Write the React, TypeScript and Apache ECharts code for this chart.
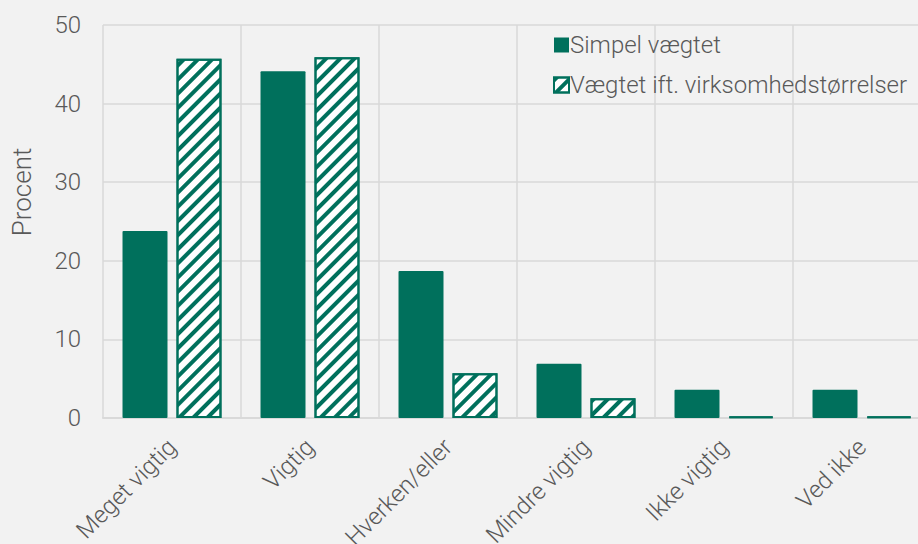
import React, { useEffect, useRef } from "react";
import * as echarts from "echarts";

const categories = ["Meget vigtig", "Vigtig", "Hverken/eller", "Mindre vigtig", "Ikke vigtig", "Ved ikke"];
const simpleValues = [23.8, 44.1, 18.7, 6.9, 3.6, 3.6];
const weightedValues = [45.7, 45.9, 5.7, 2.5, 0.2, 0.2];
const seriesNames = ["Simpel vægtet", "Vægtet ift. virksomhedstørrelser"];
const yTicks = { min: 0, max: 50, interval: 10 };

const GREEN = "#00705c";
const TEXT = "#595959";
const GRID = "#d9d9d9";
const FONT = "Roboto";

export default function App() {
  const ref = useRef<HTMLDivElement>(null);
  useEffect(() => {
    if (!ref.current) return;
    const chart = echarts.init(ref.current, undefined, { renderer: "svg" });
    chart.setOption({
      animation: false,
      backgroundColor: "#f2f2f2",
      textStyle: { fontFamily: FONT, fontWeight: 300 },
      grid: { left: 103, right: -13, top: 25, bottom: 126, containLabel: false, outerBoundsMode: "none" },
      legend: {
        orient: "vertical",
        left: 548,
        top: 28,
        itemWidth: 15,
        itemHeight: 15,
        itemGap: 16,
        icon: "rect",
        textStyle: { fontSize: 24, color: TEXT, fontFamily: FONT, fontWeight: 300, padding: [0, 0, 0, -4] },
        data: seriesNames,
      },
      graphic: [
        {
          type: "text",
          x: 9,
          y: 192,
          rotation: Math.PI / 2,
          style: {
            text: "Procent",
            fontSize: 26,
            fontFamily: FONT,
            fontWeight: 300,
            fill: TEXT,
            align: "center",
            verticalAlign: "top",
          },
        },
      ],
      xAxis: {
        type: "category",
        data: categories,
        axisLine: { show: true, lineStyle: { color: GRID, width: 2 } },
        axisTick: { show: false },
        splitLine: { show: true, lineStyle: { color: GRID, width: 1.5 } },
        axisLabel: {
          rotate: 45,
          fontSize: 24,
          color: TEXT,
          fontFamily: FONT,
          fontWeight: 300,
          margin: 25,
          interval: 0,
          hideOverlap: false,
        },
      },
      yAxis: {
        type: "value",
        min: yTicks.min,
        max: yTicks.max,
        interval: yTicks.interval,
        axisLine: { show: false },
        axisTick: { show: false },
        splitLine: { show: true, lineStyle: { color: GRID, width: 1.5 } },
        axisLabel: { fontSize: 24, color: TEXT, fontFamily: FONT, fontWeight: 300, margin: 22 },
      },
      series: [
        {
          name: seriesNames[0],
          type: "bar",
          data: simpleValues,
          barWidth: "32.6%",
          barGap: "20%",
          itemStyle: { color: GREEN, borderRadius: 1 },
        },
        {
          name: seriesNames[1],
          type: "bar",
          data: weightedValues,
          barWidth: "32.6%",
          barGap: "20%",
          itemStyle: {
            color: "#ffffff",
            borderColor: GREEN,
            borderWidth: 2,
            decal: {
              symbol: "rect",
              symbolSize: 1,
              dashArrayX: [1, 0],
              dashArrayY: [4, 6],
              rotation: -Math.PI / 4,
              color: GREEN,
            },
          },
        },
      ],
    });
    return () => chart.dispose();
  }, []);
  return <div ref={ref} style={{ position: "fixed", left: 0, top: 0, width: 918, height: 544 }} />;
}
